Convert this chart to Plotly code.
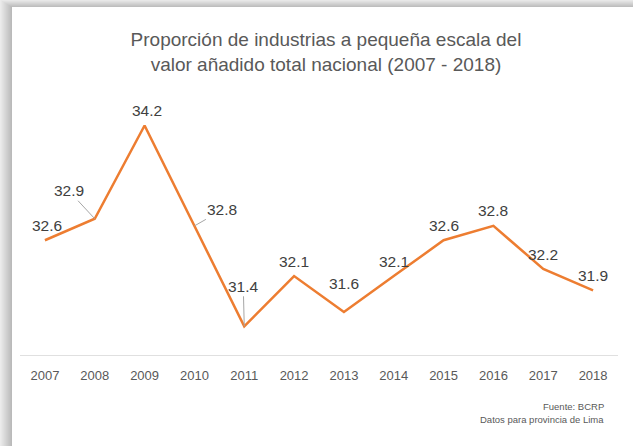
import plotly.graph_objects as go

years = ["2007", "2008", "2009", "2010", "2011", "2012", "2013", "2014", "2015", "2016", "2017", "2018"]
values = [32.6, 32.9, 34.2, 32.8, 31.4, 32.1, 31.6, 32.1, 32.6, 32.8, 32.2, 31.9]
labels = ["32.6", "32.9", "34.2", "32.8", "31.4", "32.1", "31.6", "32.1", "32.6", "32.8", "32.2", "31.9"]

W, H = 633, 446
L, R, T, B = 20, 15, 104, 91
PW, PH = W - L - R, H - T - B

def px(x):
    return (x - L) / PW

def py(y):
    return (H - B - y) / PH

fig = go.Figure()
fig.add_trace(go.Scatter(
    x=years, y=values, mode="lines",
    line=dict(color="#ED7D31", width=2.5),
    hoverinfo="skip", cliponaxis=False,
))

# label placement: (xshift, yshift, arrow offsets)
place = {
    0: (2, 15, None),
    1: (None, None, (-26, -28)),
    2: (2, 15, None),
    3: (None, None, (28, -16)),
    4: (None, None, (-1, -40)),
    5: (0, 15, None),
    6: (0, 28, None),
    7: (0, 15, None),
    8: (0, 15, None),
    9: (0, 15, None),
    10: (0, 14, None),
    11: (0, 15, None),
}
annotations = []
for i, (yr, v, lab) in enumerate(zip(years, values, labels)):
    xs, ys, arr = place[i]
    # category axis: position annotations by category index
    if arr is None:
        annotations.append(dict(x=i, y=v, xref="x", yref="y", text=lab, showarrow=False,
                                xshift=xs, yshift=ys, font=dict(size=15.5, color="#404040")))
    else:
        annotations.append(dict(x=i, y=v, xref="x", yref="y", text=lab, showarrow=True,
                                ax=arr[0], ay=arr[1], arrowhead=0, arrowwidth=1,
                                arrowcolor="#a6a6a6", standoff=0, startstandoff=0,
                                font=dict(size=15.5, color="#404040")))

annotations.append(dict(xref="paper", yref="paper", x=px(606), y=py(406), xanchor="right",
                        yanchor="middle", text="Fuente: BCRP", showarrow=False,
                        font=dict(size=9.5, color="#595959")))
annotations.append(dict(xref="paper", yref="paper", x=px(606), y=py(419), xanchor="right",
                        yanchor="middle", text="Datos para provincia de Lima", showarrow=False,
                        font=dict(size=9.5, color="#595959")))

# shadow strips
shapes = []
n = 12
for k in range(n):
    g = int(240 - (240 - 186) * (k + 1) / n)
    col = f"rgb({g},{g},{g})"
    shapes.append(dict(type="rect", xref="paper", yref="paper", layer="below",
                       x0=px(k), x1=px(k + 1), y0=py(H), y1=py(0),
                       line=dict(width=0), fillcolor=col))
m = 7
for k in range(m):
    g = int(240 - (240 - 190) * (k + 1) / m)
    col = f"rgb({g},{g},{g})"
    shapes.append(dict(type="rect", xref="paper", yref="paper", layer="below",
                       x0=px(min(k * 12 / m + 1, 12)), x1=px(W), y0=py(k + 1), y1=py(k),
                       line=dict(width=0), fillcolor=col))

fig.update_layout(
    width=W, height=H,
    margin=dict(l=L, r=R, t=T, b=B),
    paper_bgcolor="white", plot_bgcolor="white",
    font=dict(family="Liberation Sans, Arial, sans-serif", color="#595959"),
    title=dict(text="Proporción de industrias a pequeña escala del<br>valor añadido total nacional (2007 - 2018)",
               x=0.515, xanchor="center", y=1 - 46 / H, yanchor="middle",
               font=dict(size=19, color="#595959")),
    showlegend=False,
    xaxis=dict(type="category", range=[-0.5, len(years) - 0.5], showgrid=False, zeroline=False,
               showline=True, linecolor="#e0e0e0", linewidth=1, ticks="", ticklabelstandoff=8,
               tickfont=dict(size=13, color="#595959"), fixedrange=True),
    yaxis=dict(range=[31.0, 34.5], visible=False, fixedrange=True),
    annotations=annotations,
    shapes=shapes,
)

fig.write_html("out.html", config={"displayModeBar": False},
               post_script="document.body.style.margin='0';document.body.style.padding='0';")
